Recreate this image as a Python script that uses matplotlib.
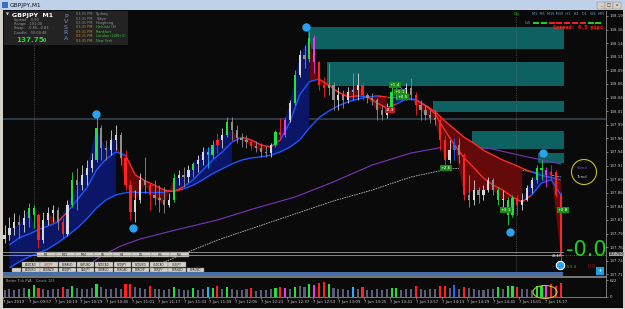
import numpy as np
import matplotlib
matplotlib.use("Agg")
import matplotlib.pyplot as plt
from matplotlib.patches import Rectangle, Ellipse
from matplotlib.collections import LineCollection

# ==========================================================
# Data (GBPJPY M1, grouped by 3 minutes)
# ==========================================================

first_open = 137.780

close = [
    137.787, 137.800, 137.811, 137.806, 137.819, 137.837, 137.824, 137.778, 137.815, 137.828,
    137.833, 137.811, 137.789, 137.843, 137.889, 137.879, 137.898, 137.911, 137.925, 137.984,
    137.947, 137.944, 137.962, 137.971, 137.929, 137.879, 137.830, 137.852, 137.889, 137.879,
    137.861, 137.856, 137.852, 137.843, 137.852, 137.892, 137.898, 137.894, 137.907, 137.918,
    137.925, 137.940, 137.934, 137.953, 137.962, 137.971, 137.995, 137.980, 137.966, 137.962,
    137.958, 137.951, 137.947, 137.940, 137.938, 137.953, 137.977, 137.971, 137.999, 138.030,
    138.082, 138.118, 138.110, 138.150, 138.105, 138.063, 138.058, 138.063, 138.036, 138.045,
    138.036, 138.050, 138.054, 138.063, 138.045, 138.039, 138.036, 138.017, 138.008, 138.021,
    138.050, 138.054, 138.048, 138.058, 138.045, 138.026, 138.017, 138.008, 138.002, 137.999,
    137.962, 137.925, 137.944, 137.953, 137.934, 137.861, 137.852, 137.870, 137.861, 137.870,
    137.889, 137.870, 137.852, 137.852, 137.824, 137.856, 137.843, 137.852, 137.874, 137.889,
    137.911, 137.907, 137.898, 137.903, 137.861, 137.750,
]

high = [
    137.806, 137.821, 137.828, 137.824, 137.833, 137.846, 137.843, 137.828, 137.830, 137.839,
    137.843, 137.838, 137.819, 137.852, 137.903, 137.911, 137.916, 137.925, 137.938, 138.004,
    137.990, 137.962, 137.980, 137.990, 137.976, 137.944, 137.889, 137.870, 137.901, 137.931,
    137.883, 137.889, 137.879, 137.876, 137.865, 137.901, 137.907, 137.912, 137.916, 137.921,
    137.934, 137.949, 137.949, 137.962, 137.975, 137.984, 138.004, 138.004, 137.990, 137.975,
    137.971, 137.962, 137.960, 137.956, 137.951, 137.956, 137.980, 138.002, 138.004, 138.036,
    138.091, 138.127, 138.137, 138.163, 138.155, 138.108, 138.078, 138.104, 138.068, 138.059,
    138.054, 138.059, 138.085, 138.085, 138.068, 138.048, 138.048, 138.040, 138.026, 138.030,
    138.059, 138.067, 138.059, 138.067, 138.076, 138.050, 138.036, 138.026, 138.017, 138.017,
    138.004, 137.971, 137.962, 137.966, 137.966, 137.938, 137.898, 137.889, 137.876, 137.879,
    137.894, 137.893, 137.876, 137.870, 137.857, 137.861, 137.861, 137.865, 137.879, 137.894,
    137.916, 137.925, 137.912, 137.916, 137.907, 137.866,
]

low = [
    137.772, 137.778, 137.787, 137.782, 137.793, 137.802, 137.800, 137.764, 137.772, 137.806,
    137.811, 137.797, 137.782, 137.785, 137.838, 137.833, 137.870, 137.879, 137.903, 137.921,
    137.925, 137.925, 137.934, 137.944, 137.916, 137.870, 137.815, 137.811, 137.846, 137.865,
    137.833, 137.843, 137.830, 137.828, 137.839, 137.848, 137.879, 137.876, 137.885, 137.894,
    137.903, 137.916, 137.911, 137.929, 137.938, 137.947, 137.967, 137.962, 137.956, 137.949,
    137.947, 137.944, 137.940, 137.931, 137.931, 137.931, 137.949, 137.962, 137.968, 137.995,
    138.026, 138.078, 138.094, 138.105, 138.085, 138.054, 138.041, 138.045, 138.017, 138.017,
    138.021, 138.030, 138.036, 138.036, 138.036, 138.030, 138.026, 137.999, 137.999, 138.002,
    138.018, 138.036, 138.036, 138.036, 138.036, 138.008, 137.999, 137.999, 137.993, 137.990,
    137.944, 137.916, 137.920, 137.925, 137.920, 137.852, 137.839, 137.843, 137.846, 137.852,
    137.866, 137.861, 137.843, 137.839, 137.806, 137.821, 137.824, 137.833, 137.849, 137.865,
    137.883, 137.889, 137.876, 137.889, 137.857, 137.738,
]

# PVA colour code per bar: n normal, g green, r red, c cyan, m magenta, b blue
pva = ("nnnnnggrnn" "nnrngnnnng" "nnnnnrrnnn" "rnnnngnnng" "nncgrngnnn" "nrnnnngrmn"
       "gnngmrrgnn" "nncnrnnnnn" "ggnnnrnnnn" "rrnbnrnnnn" "nngnggrnnn" "ggmrrr")

volume = [
    260, 300, 240, 280, 320, 300, 450, 330, 300, 260,
    280, 300, 380, 280, 420, 340, 300, 280, 330, 460,
    360, 300, 280, 320, 300, 470, 480, 380, 340, 300,
    400, 300, 280, 260, 300, 360, 280, 260, 240, 340,
    260, 300, 380, 340, 400, 300, 380, 300, 260, 240,
    280, 320, 220, 240, 260, 280, 340, 360, 320, 280,
    380, 420, 360, 460, 440, 520, 560, 480, 340, 300,
    280, 260, 360, 300, 380, 260, 240, 280, 260, 300,
    340, 320, 240, 280, 300, 420, 300, 260, 280, 300,
    400, 420, 320, 440, 300, 380, 320, 280, 260, 240,
    280, 300, 380, 300, 400, 420, 380, 300, 280, 260,
    400, 420, 440, 460, 420, 520,
]

# moving averages, read at every odd bar (1, 3, ..., 115)
ma_fast = [
    137.769, 137.782, 137.789, 137.797, 137.804, 137.811, 137.830, 137.852, 137.874, 137.907,
    137.927, 137.940, 137.934, 137.898, 137.887, 137.879, 137.870, 137.867, 137.876, 137.889,
    137.907, 137.925, 137.940, 137.958, 137.967, 137.962, 137.953, 137.949, 137.962, 137.995,
    138.045, 138.069, 138.074, 138.063, 138.050, 138.041, 138.043, 138.041, 138.030, 138.021,
    138.028, 138.037, 138.036, 138.025, 138.010, 137.980, 137.953, 137.929, 137.911, 137.892,
    137.879, 137.870, 137.857, 137.848, 137.861, 137.883, 137.889, 137.861,
]
ma_slow = [
    137.727, 137.738, 137.747, 137.754, 137.762, 137.773, 137.786, 137.800, 137.817, 137.837,
    137.852, 137.861, 137.865, 137.867, 137.867, 137.867, 137.867, 137.868, 137.872, 137.879,
    137.889, 137.900, 137.909, 137.918, 137.925, 137.929, 137.931, 137.934, 137.940, 137.949,
    137.962, 137.984, 138.003, 138.015, 138.025, 138.032, 138.037, 138.041, 138.043, 138.041,
    138.041, 138.039, 138.036, 138.026, 138.014, 137.997, 137.982, 137.967, 137.956, 137.943,
    137.934, 137.925, 137.918, 137.910, 137.903, 137.897, 137.893, 137.889,
]
# trend state at the same odd bars: u = blue (up), d = red (down)
trend = ("uuuuu" "d" "uuuuuu" "dddddd" "uuuuuu" "dddd" "uuuu" "dddd" "u" "ddd" "uu"
         "dddddddddddd" "uuu" "d")

purple_bar = [16, 20, 24, 28, 36, 44, 52, 60, 68, 76, 84, 92, 100, 108, 115]
ma_purple = [137.723, 137.749, 137.767, 137.780, 137.798, 137.815, 137.837, 137.857,
             137.885, 137.916, 137.938, 137.951, 137.947, 137.931, 137.918]
gray_bar = [28, 36, 44, 52, 60, 68, 76, 84, 92, 100, 108, 115]
ma_gray = [137.719, 137.749, 137.778, 137.802, 137.826, 137.850, 137.870, 137.894,
           137.909, 137.912, 137.905, 137.894]

# supply zones (start minute, top, bottom), all end at minute 348
zone_start = [189, 201, 267, 291, 332]
zone_top = [138.170, 138.105, 138.034, 137.979, 137.938]
zone_bot = [138.129, 138.061, 138.014, 137.945, 137.920]
zone_end = 348

level_line = 138.000
separators = [19, 318]

swing_min = [57.7, 80.6, 187.9, 314.4, 334.9, 345.4]
swing_price = [138.010, 137.800, 138.170, 137.793, 137.938, 137.732]

trade_txt = ["+1.4", "+1.1", "+0.5", "-0.3", "+2.6", "+3.1", "+2.8"]
trade_min = [243.1, 246.2, 248.1, 240.0, 274.7, 311.9, 347.3]
trade_price = [138.063, 138.050, 138.041, 138.017, 137.910, 137.833, 137.833]

time_labels = ["7 Jun 2019", "7 Jun 09:57", "7 Jun 10:13", "7 Jun 10:29", "7 Jun 10:45",
               "7 Jun 11:01", "7 Jun 11:17", "7 Jun 11:33", "7 Jun 11:49", "7 Jun 12:05",
               "7 Jun 12:21", "7 Jun 12:37", "7 Jun 12:53", "7 Jun 13:09", "7 Jun 13:25",
               "7 Jun 13:41", "7 Jun 13:57", "7 Jun 14:13", "7 Jun 14:29", "7 Jun 14:45",
               "7 Jun 15:01", "7 Jun 15:17"]
time_min = [16 * k for k in range(len(time_labels))]

price_ticks = [137.715, 137.740, 137.765, 137.790, 137.815, 137.840, 137.865, 137.890,
               137.915, 137.940, 137.965, 137.990, 138.015, 138.040, 138.065, 138.090,
               138.115, 138.140, 138.165, 138.190]

sessions = ["Sydney", "Tokyo", "Hongkong", "Helsinki (8)", "Frankfurt", "London (LON+1)", "New York"]
tf_buttons = ["M5", "M15", "M30", "H1", "H4", "D1", "W1", "MN"]
pair_row1 = ["AUDCAD", "GBPJPY", "EURAUD", "GBPUSD", "NZDCAD", "NZDJPY", "NZDUSD", "USDCAD", "USDJPY"]
pair_row2 = ["AUDUSD", "AUDNZD", "AUDJPY", "CADJPY", "GBPAUD", "EURCAD", "EURCHF", "EURJPY",
             "EURNZD", "EURUSD"]
strength = "ggrrrrrgg"

# ==========================================================
# Figure
# ==========================================================

W, H = 625, 309
BG = "#0a0a0a"
fig = plt.figure(figsize=(W / 100, H / 100), dpi=100, facecolor=BG)


def px_axes(x0, y0, x1, y1):
    return fig.add_axes([x0 / W, 1 - y1 / H, (x1 - x0) / W, (y1 - y0) / H])


ax = px_axes(3, 11, 606, 276)
axv = px_axes(3, 277, 606, 297)
ov = fig.add_axes([0, 0, 1, 1], zorder=10)
ov.set_xlim(0, W)
ov.set_ylim(H, 0)
ov.axis("off")
ov.patch.set_alpha(0)

close = np.array(close)
high = np.array(high)
low = np.array(low)
t = 3 * np.arange(len(close)) + 1
opn = np.r_[first_open, close[:-1]]

col_map = {"g": "#22dd44", "r": "#ff2222", "c": "#22b4ff", "m": "#e040e0", "b": "#2266ff"}
cndl_col = [col_map.get(k, "#d8d8d8" if c >= o else "#8e8e8e")
            for k, c, o in zip(pva, close, opn)]

# ---------------- main chart ----------------
ax.set_facecolor(BG)
ax.set_xlim(0, 374)
ax.set_ylim(137.712, 138.199)

for s, tp, bt in zip(zone_start, zone_top, zone_bot):
    ax.add_patch(Rectangle((s, bt), zone_end - s, tp - bt, fc="#0e6161", ec="none", zorder=1))

ax.axhline(level_line, color="#2c3e4e", lw=1.3, zorder=1)
for s in separators:
    ax.axvline(s, color="#6a6a6a", lw=0.5, ls=(0, (1, 1.5)), zorder=1)

ax.plot(3 * np.array(purple_bar) + 1, ma_purple, color="#7a34b8", lw=0.8, zorder=2)
ax.plot(3 * np.array(gray_bar) + 1, ma_gray, color="#b4b4b4", lw=0.6, ls=(0, (2, 1)), zorder=2)

tm = t[1::2]
cm = close[1::2]
fast = np.array(ma_fast)
slow = np.array(ma_slow)
dn = np.array([k == "d" for k in trend])
up_ext = ~dn | np.r_[~dn[1:], False]
dn_ext = dn | np.r_[dn[1:], False]
ax.fill_between(tm, cm, np.minimum(fast, slow), where=up_ext, color="#0b1666", lw=0, zorder=2)
ax.fill_between(tm, cm, np.maximum(fast, slow), where=dn_ext, color="#640a0a", lw=0, zorder=2)


def colored_line(y, red_mask):
    pts = np.column_stack([tm, y])
    segs = np.stack([pts[:-1], pts[1:]], axis=1)
    cols = ["#ff2a2a" if r else "#1f55ff" for r in red_mask[:-1]]
    ax.add_collection(LineCollection(segs, colors=cols, lw=1.0, zorder=3))


colored_line(slow, dn & (slow > fast))
colored_line(fast, dn)

ax.vlines(t, low, high, colors=cndl_col, lw=0.6, zorder=4)
ax.bar(t, np.maximum(np.abs(close - opn), 0.0015), bottom=np.minimum(opn, close),
       width=1.4, color=cndl_col, lw=0, zorder=4)

ax.plot(swing_min[:-1], swing_price[:-1], "o", ms=5, mfc="#2aa2f2", mec="#2aa2f2", zorder=6)
ax.plot(swing_min[-1:], swing_price[-1:], "o", ms=6, mfc="#2aa2f2", mec="white", mew=0.8, zorder=6)

for s, m, p in zip(trade_txt, trade_min, trade_price):
    ax.text(m, p, s, fontsize=3.2, color="white", ha="center", va="center", zorder=7,
            bbox=dict(boxstyle="square,pad=0.25", fc="#c02020" if s[0] == "-" else "#1a8c1a", ec="none"))

ax.hlines(close[-1], t[-1], 374, color="#3a6aa8", lw=0.6, ls=(0, (1, 1.5)), zorder=3)

for side in ["top", "left"]:
    ax.spines[side].set_visible(False)
for side in ["right", "bottom"]:
    ax.spines[side].set_color("#8a8a8a")
    ax.spines[side].set_linewidth(0.6)
ax.set_xticks([])
ax.yaxis.tick_right()
ax.set_yticks(price_ticks)
ax.set_yticklabels([f"{v:.3f}" for v in price_ticks])
ax.tick_params(axis="y", labelsize=2.8, colors="#c8c8c8", length=1.5, width=0.4, pad=0.8)

# ---------------- volume panel ----------------
axv.set_facecolor(BG)
vol_col = [col_map.get(k, "#5c5c78") for k in pva]
axv.bar(t, volume, width=1.3, color=vol_col, lw=0)
axv.set_xlim(0, 374)
axv.set_ylim(0, 732)
axv.spines["left"].set_visible(False)
for side in ["right", "bottom", "top"]:
    axv.spines[side].set_color("#8a8a8a")
    axv.spines[side].set_linewidth(0.6)
axv.yaxis.tick_right()
axv.set_yticks([0, 622])
axv.set_yticklabels(["0", "622"])
axv.set_xticks(time_min)
axv.set_xticklabels(time_labels, ha="left")
axv.tick_params(labelsize=2.8, colors="#c8c8c8", length=1.5, width=0.4, pad=1)

# ---------------- overlays (pixel coordinates) ----------------
def rect(x0, y0, x1, y1, **kw):
    ov.add_patch(Rectangle((x0, y0), x1 - x0, y1 - y0, **kw))


rect(0, 0, W, 10, fc="#bfd2ea", ec="none")
rect(2, 2, 8, 8, fc="#3a70c0", ec="none")
ov.text(10, 5.3, "GBPJPY,M1", fontsize=4.2, color="#101010", va="center")
for x0, s in zip([597, 605, 613], ["_", "□", "x"]):
    rect(x0, 1.5, x0 + 7.5, 8.5, fc="#d4d0c8", ec="#808080", lw=0.3)
    ov.text(x0 + 3.75, 5, s, fontsize=3, color="#202020", ha="center", va="center")
rect(0, 10, 2.5, H, fc="#d4d0c8", ec="none")
rect(623, 10, W, H, fc="#d4d0c8", ec="none")
rect(0, 307.5, W, H, fc="#d4d0c8", ec="none")

# info panel
rect(4, 11, 128, 45, fc="#232323", ec="none")
ov.text(6, 14.5, "▼", fontsize=2.8, color="#d0d0d0", va="center")
ov.text(12, 15, "GBPJPY  M1", fontsize=4.5, color="white", weight="bold", va="center")
for k, s in enumerate(["Spread:   0.50", "Range:   101.00", "Swap:   -0.85, -0.83", "Candle:   00:00:48"]):
    ov.text(14, 20.5 + 4 * k, s, fontsize=2.5, color="#9a9a9a", va="center")
ov.text(16, 40.5, "137.75", fontsize=5.2, color="#22dd22", weight="bold", va="center")
ov.text(43, 41, "0", fontsize=3.5, color="#e0e0e0", va="center")
for k, s in enumerate("PVSRA"):
    ov.text(66, 16 + 5.6 * k, s, fontsize=4.5, color="#7f8fc8", ha="center", va="center")
for k, s in enumerate(sessions):
    ov.text(76, 14.2 + 4.4 * k, "03:31 PM", fontsize=2.5, va="center",
            color="#8c8c8c" if k < 3 else "#d08a28")
    ov.text(96, 14.2 + 4.4 * k, s, fontsize=2.5, va="center",
            color="#9a9a9a" if k < 3 else "#3cc43c")

# top right strength meter
ov.text(514, 14, "Dly", fontsize=2.8, color="#3cb43c", va="center")
ov.text(532, 14, "M1  M5  M15 M30  H1   H4   D1   W1  MN", fontsize=2.5, color="#6fa0b2", va="center")
ov.text(525, 23, "Cdl", fontsize=2.5, color="#6fa0b2", va="center")
for k, c in enumerate(strength):
    rect(533 + 7.8 * k, 22, 539 + 7.8 * k, 24, fc="#22cc22" if c == "g" else "#ee2222", ec="none")
ov.text(553, 28, "Spread: 0.5 pips", fontsize=3.8, color="#ff2020", weight="bold",
        family="DejaVu Sans Mono", va="center")

# button rows and bottom bar
ov.plot([3, 563], [251.5, 251.5], color="#9a9a9a", lw=0.6)
ov.plot([3, 563], [254.5, 254.5], color="#9a9a9a", lw=0.6)
x0 = 37
for s in tf_buttons:
    rect(x0, 252, x0 + 18.5, 257, fc="#d4d0c8", ec="#808080", lw=0.3)
    ov.text(x0 + 9.2, 254.6, s, fontsize=2.2, color="#202020", ha="center", va="center")
    x0 += 19
for k, s in enumerate(pair_row1):
    xa = 22 + 18.3 * k
    rect(xa, 262, xa + 17.5, 267, fc="#d4d0c8", ec="#808080", lw=0.3)
    ov.text(xa + 8.7, 264.6, s, fontsize=2, ha="center", va="center",
            color="#e02020" if s == "GBPJPY" else "#202020")
rect(12, 267.5, 20.5, 272, fc="#d4d0c8", ec="#808080", lw=0.3)
for k, s in enumerate(pair_row2):
    xa = 22 + 18.3 * k
    rect(xa, 267.5, xa + 17.5, 272, fc="#d4d0c8", ec="#808080", lw=0.3)
    ov.text(xa + 8.7, 269.8, s, fontsize=2, color="#202020", ha="center", va="center")
rect(2.5, 272, 563, 275.5, fc="#466ea8", ec="none")
rect(596, 267, 604, 275, fc="#1aa0e0", ec="none")
ov.text(600, 271, "+", fontsize=4, color="white", ha="center", va="center")

# right side texts
ov.text(566, 250, "-0.0", fontsize=15, color="#22cc22", va="center",
        family=["Liberation Sans Narrow", "DejaVu Sans"])
ov.text(552, 256, "48:48", fontsize=2.4, color="white", va="center")
ov.text(566, 266.5, "-50.4", fontsize=3.2, color="#22aa22", va="center")
ov.text(588, 266.5, "0.0", fontsize=3.6, color="#b01010", va="center")
ov.text(609, 254, "137.750", fontsize=2.5, color="#101010", va="center",
        bbox=dict(boxstyle="square,pad=0.05", fc="#a0a0a0", ec="none"))
ov.add_patch(Ellipse((584, 172), 25, 25, fc="none", ec="#c8c020", lw=0.8))
ov.text(577, 168, "Sbmd", fontsize=2.6, color="#8a4ad0", va="center")
ov.text(577, 177, "7bmd", fontsize=2.6, color="#c0c0c0", va="center")
ov.add_patch(Ellipse((545, 292), 24, 13, fc="none", ec="#c8c020", lw=0.8))
ov.text(6, 281, "Better Tick PVA    Count: 123", fontsize=2.4, color="#a0a0a0", va="center")

fig.savefig("out.png", dpi=100, facecolor=BG)
